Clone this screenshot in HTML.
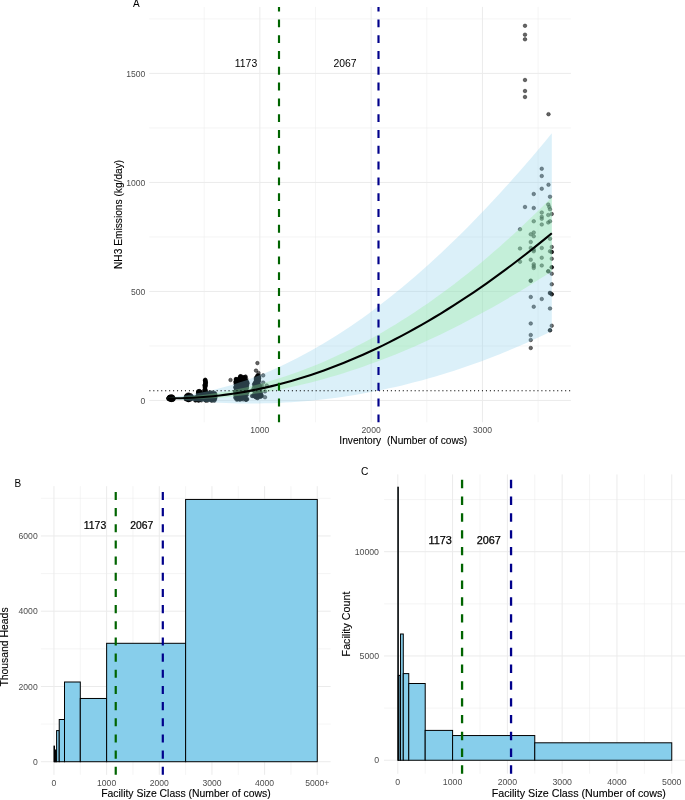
<!DOCTYPE html>
<html lang="en"><head><meta charset="utf-8"><title>Figure</title>
<style>html,body{margin:0;padding:0;background:#fff}body{width:685px;height:800px;overflow:hidden}svg{display:block}</style>
</head><body>
<svg width="685" height="800" viewBox="0 0 685 800">
<rect width="685" height="800" fill="#fff"/>
<g id="panelA">
<line x1="149.3" x2="570.9" y1="345.94" y2="345.94" stroke="#ebebeb" stroke-width="0.5"/>
<line x1="149.3" x2="570.9" y1="236.93" y2="236.93" stroke="#ebebeb" stroke-width="0.5"/>
<line x1="149.3" x2="570.9" y1="127.91" y2="127.91" stroke="#ebebeb" stroke-width="0.5"/>
<line x1="149.3" x2="570.9" y1="18.9" y2="18.9" stroke="#ebebeb" stroke-width="0.5"/>
<line y1="6.9" y2="422.3" x1="204.2" x2="204.2" stroke="#ebebeb" stroke-width="0.5"/>
<line y1="6.9" y2="422.3" x1="315.5" x2="315.5" stroke="#ebebeb" stroke-width="0.5"/>
<line y1="6.9" y2="422.3" x1="426.8" x2="426.8" stroke="#ebebeb" stroke-width="0.5"/>
<line y1="6.9" y2="422.3" x1="538.1" x2="538.1" stroke="#ebebeb" stroke-width="0.5"/>
<line x1="149.3" x2="570.9" y1="400.45" y2="400.45" stroke="#ebebeb" stroke-width="1"/>
<line x1="149.3" x2="570.9" y1="291.44" y2="291.44" stroke="#ebebeb" stroke-width="1"/>
<line x1="149.3" x2="570.9" y1="182.42" y2="182.42" stroke="#ebebeb" stroke-width="1"/>
<line x1="149.3" x2="570.9" y1="73.4" y2="73.4" stroke="#ebebeb" stroke-width="1"/>
<line y1="6.9" y2="422.3" x1="259.85" x2="259.85" stroke="#ebebeb" stroke-width="1"/>
<line y1="6.9" y2="422.3" x1="371.15" x2="371.15" stroke="#ebebeb" stroke-width="1"/>
<line y1="6.9" y2="422.3" x1="482.45" x2="482.45" stroke="#ebebeb" stroke-width="1"/>
<g fill="#000" fill-opacity="0.6" stroke="#000" stroke-opacity="0.6" stroke-width="0.7">
<circle cx="541.75" cy="168.75" r="1.8"/>
<circle cx="541.75" cy="176" r="1.8"/>
<circle cx="548.5" cy="184.75" r="1.8"/>
<circle cx="541.75" cy="188.75" r="1.8"/>
<circle cx="533.75" cy="194" r="1.8"/>
<circle cx="550" cy="196.75" r="1.8"/>
<circle cx="525" cy="207" r="1.8"/>
<circle cx="533.75" cy="208" r="1.8"/>
<circle cx="548.25" cy="204.5" r="1.8"/>
<circle cx="549.25" cy="207" r="1.8"/>
<circle cx="550" cy="209.25" r="1.8"/>
<circle cx="541.75" cy="212.5" r="1.8"/>
<circle cx="551.75" cy="214" r="1.8"/>
<circle cx="548.25" cy="215" r="1.8"/>
<circle cx="541.75" cy="216.75" r="1.8"/>
<circle cx="541.75" cy="218.75" r="1.8"/>
<circle cx="533.75" cy="221.25" r="1.8"/>
<circle cx="541.75" cy="224.5" r="1.8"/>
<circle cx="548.25" cy="222.5" r="1.8"/>
<circle cx="550" cy="221.25" r="1.8"/>
<circle cx="520" cy="229.25" r="1.8"/>
<circle cx="533.75" cy="232.5" r="1.8"/>
<circle cx="530.75" cy="234.25" r="1.8"/>
<circle cx="533.75" cy="236.25" r="1.8"/>
<circle cx="550" cy="238.75" r="1.8"/>
<circle cx="530.75" cy="242" r="1.8"/>
<circle cx="520" cy="248.5" r="1.8"/>
<circle cx="530.75" cy="248" r="1.8"/>
<circle cx="533.75" cy="249.5" r="1.8"/>
<circle cx="533.75" cy="251.25" r="1.8"/>
<circle cx="541.75" cy="248" r="1.8"/>
<circle cx="551.75" cy="247" r="1.8"/>
<circle cx="550" cy="251.25" r="1.8"/>
<circle cx="551.75" cy="252" r="1.8"/>
<circle cx="541.75" cy="257.75" r="1.8"/>
<circle cx="551.75" cy="258.75" r="1.8"/>
<circle cx="530.75" cy="259.75" r="1.8"/>
<circle cx="520" cy="261.75" r="1.8"/>
<circle cx="533.75" cy="264.25" r="1.8"/>
<circle cx="533.75" cy="266.25" r="1.8"/>
<circle cx="533.75" cy="268" r="1.8"/>
<circle cx="541.75" cy="265.5" r="1.8"/>
<circle cx="551.75" cy="267.25" r="1.8"/>
<circle cx="548.25" cy="271.25" r="1.8"/>
<circle cx="551.75" cy="273.75" r="1.8"/>
<circle cx="530.75" cy="280.75" r="1.8"/>
<circle cx="551.75" cy="284.25" r="1.8"/>
<circle cx="550" cy="293" r="1.8"/>
<circle cx="551.75" cy="294.25" r="1.8"/>
<circle cx="530.75" cy="297" r="1.8"/>
<circle cx="541.75" cy="299" r="1.8"/>
<circle cx="533.75" cy="306.75" r="1.8"/>
<circle cx="550" cy="308.5" r="1.8"/>
<circle cx="530.75" cy="323.5" r="1.8"/>
<circle cx="551.75" cy="325.75" r="1.8"/>
<circle cx="550" cy="330.25" r="1.8"/>
<circle cx="530.75" cy="335" r="1.8"/>
<circle cx="530.75" cy="340" r="1.8"/>
<circle cx="530.75" cy="348" r="1.8"/>
<circle cx="548.25" cy="271.25" r="1.8"/>
<circle cx="550" cy="293" r="1.8"/>
<circle cx="551.75" cy="294.25" r="1.8"/>
<circle cx="550" cy="330.25" r="1.8"/>
<circle cx="530.75" cy="280.75" r="1.8"/>
<circle cx="551.75" cy="267.25" r="1.8"/>
<circle cx="551.75" cy="252" r="1.8"/>
<circle cx="525" cy="25.8" r="1.8"/>
<circle cx="525" cy="34.7" r="1.8"/>
<circle cx="525" cy="39.3" r="1.8"/>
<circle cx="525" cy="80" r="1.8"/>
<circle cx="525" cy="91" r="1.8"/>
<circle cx="525" cy="97" r="1.8"/>
<circle cx="548.5" cy="114.2" r="1.8"/>
<circle cx="257.4" cy="363.1" r="1.8"/>
<circle cx="256" cy="370.6" r="1.8"/>
<circle cx="258.5" cy="373" r="1.8"/>
<circle cx="263.2" cy="375.4" r="1.8"/>
<circle cx="263.2" cy="382.6" r="1.8"/>
<circle cx="266.7" cy="385.5" r="1.8"/>
<circle cx="265" cy="391.4" r="1.8"/>
<circle cx="265" cy="397.2" r="1.8"/>
<circle cx="260.9" cy="394.9" r="1.8"/>
<circle cx="230.5" cy="380" r="1.8"/>
<circle cx="170.15" cy="396.97" r="1.8"/>
<circle cx="171.92" cy="396.68" r="1.8"/>
<circle cx="171.29" cy="397.79" r="1.8"/>
<circle cx="168.71" cy="398.33" r="1.8"/>
<circle cx="168.6" cy="398.05" r="1.8"/>
<circle cx="170.69" cy="399.54" r="1.8"/>
<circle cx="169.07" cy="397.25" r="1.8"/>
<circle cx="171.79" cy="400" r="1.8"/>
<circle cx="171.52" cy="397.91" r="1.8"/>
<circle cx="173.04" cy="397.5" r="1.8"/>
<circle cx="170.07" cy="399.5" r="1.8"/>
<circle cx="169.38" cy="398.61" r="1.8"/>
<circle cx="171.85" cy="397.82" r="1.8"/>
<circle cx="171.36" cy="396.64" r="1.8"/>
<circle cx="172.07" cy="398.02" r="1.8"/>
<circle cx="170.1" cy="398.63" r="1.8"/>
<circle cx="170.85" cy="397.54" r="1.8"/>
<circle cx="172.69" cy="399.06" r="1.8"/>
<circle cx="169.72" cy="398.58" r="1.8"/>
<circle cx="171.24" cy="399.73" r="1.8"/>
<circle cx="172.34" cy="397.49" r="1.8"/>
<circle cx="170.66" cy="399.28" r="1.8"/>
<circle cx="169.22" cy="398.26" r="1.8"/>
<circle cx="168.61" cy="398.94" r="1.8"/>
<circle cx="172.53" cy="398.58" r="1.8"/>
<circle cx="173.13" cy="397.59" r="1.8"/>
<circle cx="172.15" cy="398.66" r="1.8"/>
<circle cx="171.53" cy="398.13" r="1.8"/>
<circle cx="170.96" cy="398.92" r="1.8"/>
<circle cx="168.73" cy="399.07" r="1.8"/>
<circle cx="172.84" cy="397.48" r="1.8"/>
<circle cx="170.48" cy="398.94" r="1.8"/>
<circle cx="168.52" cy="398.15" r="1.8"/>
<circle cx="169.1" cy="397.34" r="1.8"/>
<circle cx="170.51" cy="399.71" r="1.8"/>
<circle cx="168.84" cy="398.11" r="1.8"/>
<circle cx="171.37" cy="399.76" r="1.8"/>
<circle cx="172.82" cy="399.68" r="1.8"/>
<circle cx="169.9" cy="397.98" r="1.8"/>
<circle cx="170.34" cy="399.76" r="1.8"/>
<circle cx="169.35" cy="397.28" r="1.8"/>
<circle cx="169.66" cy="398.24" r="1.8"/>
<circle cx="171.58" cy="397.4" r="1.8"/>
<circle cx="170.39" cy="398.55" r="1.8"/>
<circle cx="173.55" cy="399.02" r="1.8"/>
<circle cx="171.18" cy="398.75" r="1.8"/>
<circle cx="172.05" cy="396.61" r="1.8"/>
<circle cx="173.26" cy="399.36" r="1.8"/>
<circle cx="173.12" cy="399.43" r="1.8"/>
<circle cx="170.52" cy="397.92" r="1.8"/>
<circle cx="168.96" cy="398.81" r="1.8"/>
<circle cx="169.53" cy="397.02" r="1.8"/>
<circle cx="170.24" cy="396.6" r="1.8"/>
<circle cx="168.95" cy="397.78" r="1.8"/>
<circle cx="171.72" cy="396.96" r="1.8"/>
<circle cx="169.76" cy="397.72" r="1.8"/>
<circle cx="170.37" cy="396.87" r="1.8"/>
<circle cx="170.92" cy="398.24" r="1.8"/>
<circle cx="170.25" cy="397.41" r="1.8"/>
<circle cx="172.88" cy="397.01" r="1.8"/>
<circle cx="188.7" cy="395.42" r="1.8"/>
<circle cx="188.81" cy="394.75" r="1.8"/>
<circle cx="188.7" cy="400.08" r="1.8"/>
<circle cx="191.12" cy="398.5" r="1.8"/>
<circle cx="186.78" cy="396.65" r="1.8"/>
<circle cx="186.1" cy="398.92" r="1.8"/>
<circle cx="188.73" cy="398.96" r="1.8"/>
<circle cx="187.27" cy="395.85" r="1.8"/>
<circle cx="191.04" cy="399.11" r="1.8"/>
<circle cx="190.79" cy="398.74" r="1.8"/>
<circle cx="186.53" cy="397.5" r="1.8"/>
<circle cx="187.46" cy="394.76" r="1.8"/>
<circle cx="186.77" cy="398.48" r="1.8"/>
<circle cx="191.79" cy="397.1" r="1.8"/>
<circle cx="191.78" cy="396.64" r="1.8"/>
<circle cx="186.49" cy="395.87" r="1.8"/>
<circle cx="186.32" cy="395.74" r="1.8"/>
<circle cx="189.39" cy="399.64" r="1.8"/>
<circle cx="190.95" cy="397.29" r="1.8"/>
<circle cx="189.6" cy="399.08" r="1.8"/>
<circle cx="185.51" cy="398.3" r="1.8"/>
<circle cx="191.45" cy="398.98" r="1.8"/>
<circle cx="190.3" cy="397.28" r="1.8"/>
<circle cx="186.19" cy="399.02" r="1.8"/>
<circle cx="187.29" cy="399.08" r="1.8"/>
<circle cx="191.9" cy="396.82" r="1.8"/>
<circle cx="187.79" cy="399.9" r="1.8"/>
<circle cx="190.12" cy="395.55" r="1.8"/>
<circle cx="185.95" cy="399.23" r="1.8"/>
<circle cx="187.42" cy="397.67" r="1.8"/>
<circle cx="191.89" cy="398.24" r="1.8"/>
<circle cx="188.69" cy="399.83" r="1.8"/>
<circle cx="188.02" cy="399.48" r="1.8"/>
<circle cx="190.85" cy="395.78" r="1.8"/>
<circle cx="186.71" cy="396.24" r="1.8"/>
<circle cx="186.63" cy="397.88" r="1.8"/>
<circle cx="186.77" cy="396.95" r="1.8"/>
<circle cx="187.45" cy="397.17" r="1.8"/>
<circle cx="189.1" cy="399.66" r="1.8"/>
<circle cx="187.93" cy="399.74" r="1.8"/>
<circle cx="188.51" cy="397.58" r="1.8"/>
<circle cx="188.67" cy="394.7" r="1.8"/>
<circle cx="188.07" cy="395.63" r="1.8"/>
<circle cx="186.14" cy="397.25" r="1.8"/>
<circle cx="190.12" cy="397.72" r="1.8"/>
<circle cx="187.25" cy="397.5" r="1.8"/>
<circle cx="188.9" cy="398.99" r="1.8"/>
<circle cx="185.66" cy="397.74" r="1.8"/>
<circle cx="186.69" cy="396.15" r="1.8"/>
<circle cx="190.46" cy="397.44" r="1.8"/>
<circle cx="188.94" cy="398.86" r="1.8"/>
<circle cx="191.47" cy="397.08" r="1.8"/>
<circle cx="189.31" cy="397.43" r="1.8"/>
<circle cx="188.59" cy="398.48" r="1.8"/>
<circle cx="188.16" cy="397.59" r="1.8"/>
<circle cx="188.34" cy="399.87" r="1.8"/>
<circle cx="189.93" cy="399.51" r="1.8"/>
<circle cx="188.93" cy="399.88" r="1.8"/>
<circle cx="190.95" cy="395.37" r="1.8"/>
<circle cx="185.78" cy="397.08" r="1.8"/>
<circle cx="195.29" cy="397.46" r="1.8"/>
<circle cx="195.29" cy="399.18" r="1.8"/>
<circle cx="198.14" cy="400.09" r="1.8"/>
<circle cx="195.62" cy="399.36" r="1.8"/>
<circle cx="197.64" cy="397.07" r="1.8"/>
<circle cx="198.53" cy="400.37" r="1.8"/>
<circle cx="195.88" cy="400.31" r="1.8"/>
<circle cx="196.59" cy="398.45" r="1.8"/>
<circle cx="198.96" cy="399.83" r="1.8"/>
<circle cx="195.65" cy="398.23" r="1.8"/>
<circle cx="197.06" cy="397.86" r="1.8"/>
<circle cx="195.78" cy="397.77" r="1.8"/>
<circle cx="197.89" cy="396.58" r="1.8"/>
<circle cx="197.22" cy="398.26" r="1.8"/>
<circle cx="195.07" cy="397.83" r="1.8"/>
<circle cx="197.5" cy="398.55" r="1.8"/>
<circle cx="195.26" cy="400.44" r="1.8"/>
<circle cx="198.15" cy="400.39" r="1.8"/>
<circle cx="195.42" cy="397.56" r="1.8"/>
<circle cx="195.16" cy="399.62" r="1.8"/>
<circle cx="199.35" cy="392.23" r="1.8"/>
<circle cx="200.11" cy="399.66" r="1.8"/>
<circle cx="202.09" cy="393.46" r="1.8"/>
<circle cx="198.75" cy="399.73" r="1.8"/>
<circle cx="200.85" cy="397.65" r="1.8"/>
<circle cx="198.45" cy="391.55" r="1.8"/>
<circle cx="201.44" cy="395.04" r="1.8"/>
<circle cx="198.36" cy="399.91" r="1.8"/>
<circle cx="201.17" cy="398.62" r="1.8"/>
<circle cx="198.42" cy="399.13" r="1.8"/>
<circle cx="198.33" cy="399.2" r="1.8"/>
<circle cx="200.27" cy="394.22" r="1.8"/>
<circle cx="200.77" cy="399.8" r="1.8"/>
<circle cx="199.34" cy="392.23" r="1.8"/>
<circle cx="200.63" cy="393.27" r="1.8"/>
<circle cx="198.55" cy="392.53" r="1.8"/>
<circle cx="198.25" cy="392.92" r="1.8"/>
<circle cx="199.56" cy="393.9" r="1.8"/>
<circle cx="201.8" cy="393.75" r="1.8"/>
<circle cx="200.5" cy="392.69" r="1.8"/>
<circle cx="199.74" cy="391.17" r="1.8"/>
<circle cx="199.25" cy="391.15" r="1.8"/>
<circle cx="201.67" cy="396.23" r="1.8"/>
<circle cx="198.95" cy="395.51" r="1.8"/>
<circle cx="202.67" cy="392.01" r="1.8"/>
<circle cx="202.09" cy="395.11" r="1.8"/>
<circle cx="200.48" cy="398.93" r="1.8"/>
<circle cx="199.97" cy="395.81" r="1.8"/>
<circle cx="201.44" cy="400.33" r="1.8"/>
<circle cx="199.71" cy="398.91" r="1.8"/>
<circle cx="201.53" cy="397.04" r="1.8"/>
<circle cx="200.02" cy="394.3" r="1.8"/>
<circle cx="198.27" cy="392.23" r="1.8"/>
<circle cx="198.35" cy="398.04" r="1.8"/>
<circle cx="199.28" cy="392.55" r="1.8"/>
<circle cx="198.42" cy="398.99" r="1.8"/>
<circle cx="202.35" cy="397.37" r="1.8"/>
<circle cx="199.41" cy="393.3" r="1.8"/>
<circle cx="199.47" cy="395.36" r="1.8"/>
<circle cx="198.79" cy="395.24" r="1.8"/>
<circle cx="199.32" cy="400.14" r="1.8"/>
<circle cx="202.86" cy="396.2" r="1.8"/>
<circle cx="199.22" cy="400.17" r="1.8"/>
<circle cx="199.55" cy="394.39" r="1.8"/>
<circle cx="198.01" cy="394.63" r="1.8"/>
<circle cx="200.37" cy="395.78" r="1.8"/>
<circle cx="199" cy="395.79" r="1.8"/>
<circle cx="198.02" cy="393.51" r="1.8"/>
<circle cx="198.45" cy="394.8" r="1.8"/>
<circle cx="198.21" cy="391.21" r="1.8"/>
<circle cx="205.03" cy="384.54" r="1.8"/>
<circle cx="205.34" cy="390.71" r="1.8"/>
<circle cx="205.53" cy="393.38" r="1.8"/>
<circle cx="205.49" cy="397.99" r="1.8"/>
<circle cx="205.13" cy="386.48" r="1.8"/>
<circle cx="205.78" cy="382.81" r="1.8"/>
<circle cx="205.5" cy="393.08" r="1.8"/>
<circle cx="204.75" cy="397.07" r="1.8"/>
<circle cx="205.68" cy="392.75" r="1.8"/>
<circle cx="205.51" cy="396.59" r="1.8"/>
<circle cx="204.85" cy="390.59" r="1.8"/>
<circle cx="205.25" cy="397.07" r="1.8"/>
<circle cx="205.59" cy="396.89" r="1.8"/>
<circle cx="205.34" cy="398.27" r="1.8"/>
<circle cx="205.45" cy="394.12" r="1.8"/>
<circle cx="204.95" cy="380.35" r="1.8"/>
<circle cx="204.85" cy="387.2" r="1.8"/>
<circle cx="204.82" cy="397.09" r="1.8"/>
<circle cx="205.31" cy="392.76" r="1.8"/>
<circle cx="205.39" cy="393.86" r="1.8"/>
<circle cx="205.24" cy="379.77" r="1.8"/>
<circle cx="205.58" cy="395.26" r="1.8"/>
<circle cx="205.25" cy="390.83" r="1.8"/>
<circle cx="205.43" cy="381.07" r="1.8"/>
<circle cx="205.51" cy="384.95" r="1.8"/>
<circle cx="204.78" cy="385.22" r="1.8"/>
<circle cx="205.5" cy="383.97" r="1.8"/>
<circle cx="205.51" cy="400" r="1.8"/>
<circle cx="205.24" cy="387.66" r="1.8"/>
<circle cx="205.23" cy="393.92" r="1.8"/>
<circle cx="205.54" cy="392.53" r="1.8"/>
<circle cx="205.41" cy="381.31" r="1.8"/>
<circle cx="204.86" cy="384.98" r="1.8"/>
<circle cx="205.52" cy="386.03" r="1.8"/>
<circle cx="205.32" cy="379.96" r="1.8"/>
<circle cx="204.77" cy="385.29" r="1.8"/>
<circle cx="205.44" cy="394.1" r="1.8"/>
<circle cx="205.44" cy="385.75" r="1.8"/>
<circle cx="205.27" cy="389.36" r="1.8"/>
<circle cx="205.21" cy="382.16" r="1.8"/>
<circle cx="205.68" cy="383.84" r="1.8"/>
<circle cx="205.78" cy="399.17" r="1.8"/>
<circle cx="204.72" cy="389.25" r="1.8"/>
<circle cx="205.6" cy="399.84" r="1.8"/>
<circle cx="205.19" cy="385.29" r="1.8"/>
<circle cx="204.93" cy="399.37" r="1.8"/>
<circle cx="204.93" cy="391.79" r="1.8"/>
<circle cx="204.86" cy="390.6" r="1.8"/>
<circle cx="205.75" cy="382.46" r="1.8"/>
<circle cx="205.6" cy="390.28" r="1.8"/>
<circle cx="205.68" cy="394.33" r="1.8"/>
<circle cx="204.95" cy="398.37" r="1.8"/>
<circle cx="205.23" cy="380.22" r="1.8"/>
<circle cx="204.7" cy="389.93" r="1.8"/>
<circle cx="205.2" cy="385.98" r="1.8"/>
<circle cx="204.85" cy="386.85" r="1.8"/>
<circle cx="205.05" cy="397.18" r="1.8"/>
<circle cx="204.7" cy="395.32" r="1.8"/>
<circle cx="205.62" cy="382.2" r="1.8"/>
<circle cx="205.72" cy="394.53" r="1.8"/>
<circle cx="214.27" cy="394.88" r="1.8"/>
<circle cx="207.65" cy="395.72" r="1.8"/>
<circle cx="215.48" cy="397.33" r="1.8"/>
<circle cx="207.51" cy="396.01" r="1.8"/>
<circle cx="206.44" cy="392.9" r="1.8"/>
<circle cx="204.27" cy="399.34" r="1.8"/>
<circle cx="206.57" cy="400.17" r="1.8"/>
<circle cx="206.12" cy="394.68" r="1.8"/>
<circle cx="209.39" cy="394.06" r="1.8"/>
<circle cx="207.67" cy="400.34" r="1.8"/>
<circle cx="214.05" cy="399.16" r="1.8"/>
<circle cx="210.89" cy="399.99" r="1.8"/>
<circle cx="214.76" cy="397" r="1.8"/>
<circle cx="211.99" cy="392.91" r="1.8"/>
<circle cx="212.15" cy="396.2" r="1.8"/>
<circle cx="212.41" cy="397.78" r="1.8"/>
<circle cx="206.58" cy="392.9" r="1.8"/>
<circle cx="214.58" cy="393.54" r="1.8"/>
<circle cx="208.9" cy="395.32" r="1.8"/>
<circle cx="206.72" cy="398.56" r="1.8"/>
<circle cx="215.2" cy="394.63" r="1.8"/>
<circle cx="211.2" cy="394.97" r="1.8"/>
<circle cx="209.97" cy="395.73" r="1.8"/>
<circle cx="205.09" cy="393.83" r="1.8"/>
<circle cx="205.6" cy="399.93" r="1.8"/>
<circle cx="209.21" cy="394.3" r="1.8"/>
<circle cx="214.33" cy="400.67" r="1.8"/>
<circle cx="208.62" cy="393.64" r="1.8"/>
<circle cx="205.41" cy="393.24" r="1.8"/>
<circle cx="207.27" cy="393.25" r="1.8"/>
<circle cx="205.99" cy="394.62" r="1.8"/>
<circle cx="210.12" cy="399.78" r="1.8"/>
<circle cx="212.37" cy="395.88" r="1.8"/>
<circle cx="208.17" cy="396.8" r="1.8"/>
<circle cx="207.71" cy="395.27" r="1.8"/>
<circle cx="203.78" cy="394.78" r="1.8"/>
<circle cx="215.1" cy="393.53" r="1.8"/>
<circle cx="209.29" cy="397.66" r="1.8"/>
<circle cx="213.79" cy="394.27" r="1.8"/>
<circle cx="206.39" cy="394.54" r="1.8"/>
<circle cx="208" cy="396.16" r="1.8"/>
<circle cx="214.92" cy="399.46" r="1.8"/>
<circle cx="213.91" cy="392.68" r="1.8"/>
<circle cx="203.4" cy="398.32" r="1.8"/>
<circle cx="214.2" cy="396.38" r="1.8"/>
<circle cx="210.34" cy="392.5" r="1.8"/>
<circle cx="207.89" cy="400.1" r="1.8"/>
<circle cx="213.32" cy="399.51" r="1.8"/>
<circle cx="215.15" cy="394.54" r="1.8"/>
<circle cx="204.36" cy="393.77" r="1.8"/>
<circle cx="209.53" cy="398.09" r="1.8"/>
<circle cx="214.77" cy="398.42" r="1.8"/>
<circle cx="211.09" cy="398.77" r="1.8"/>
<circle cx="208.72" cy="397.02" r="1.8"/>
<circle cx="203.49" cy="398.91" r="1.8"/>
<circle cx="205.91" cy="400.04" r="1.8"/>
<circle cx="211.07" cy="394.99" r="1.8"/>
<circle cx="204.6" cy="394.56" r="1.8"/>
<circle cx="210.95" cy="398.23" r="1.8"/>
<circle cx="204.4" cy="393.08" r="1.8"/>
<circle cx="209.56" cy="397.28" r="1.8"/>
<circle cx="207.85" cy="394.33" r="1.8"/>
<circle cx="210.51" cy="392.59" r="1.8"/>
<circle cx="206.77" cy="396.28" r="1.8"/>
<circle cx="214.99" cy="397.79" r="1.8"/>
<circle cx="214.05" cy="396.4" r="1.8"/>
<circle cx="205.93" cy="394.53" r="1.8"/>
<circle cx="215.01" cy="398.28" r="1.8"/>
<circle cx="206.84" cy="392.68" r="1.8"/>
<circle cx="209.23" cy="398.03" r="1.8"/>
<circle cx="208.25" cy="394.61" r="1.8"/>
<circle cx="211.34" cy="400.09" r="1.8"/>
<circle cx="205.83" cy="392.78" r="1.8"/>
<circle cx="207.23" cy="395.95" r="1.8"/>
<circle cx="211.53" cy="394.12" r="1.8"/>
<circle cx="212.96" cy="398.56" r="1.8"/>
<circle cx="209.31" cy="394.18" r="1.8"/>
<circle cx="215.12" cy="395.06" r="1.8"/>
<circle cx="213.25" cy="394.39" r="1.8"/>
<circle cx="205.77" cy="398.74" r="1.8"/>
<circle cx="206.69" cy="400.31" r="1.8"/>
<circle cx="209.2" cy="394.04" r="1.8"/>
<circle cx="205.79" cy="395.92" r="1.8"/>
<circle cx="211.32" cy="400.28" r="1.8"/>
<circle cx="204.83" cy="395.73" r="1.8"/>
<circle cx="205.66" cy="400.49" r="1.8"/>
<circle cx="204.77" cy="392.93" r="1.8"/>
<circle cx="203.75" cy="395.73" r="1.8"/>
<circle cx="214.23" cy="399.75" r="1.8"/>
<circle cx="212.16" cy="400.68" r="1.8"/>
<circle cx="246.85" cy="387.19" r="1.8"/>
<circle cx="237.6" cy="398.59" r="1.8"/>
<circle cx="244.55" cy="381.6" r="1.8"/>
<circle cx="243.54" cy="388.12" r="1.8"/>
<circle cx="239.94" cy="387.24" r="1.8"/>
<circle cx="237.4" cy="381.05" r="1.8"/>
<circle cx="238.77" cy="387.61" r="1.8"/>
<circle cx="247.15" cy="383.33" r="1.8"/>
<circle cx="247.26" cy="384.9" r="1.8"/>
<circle cx="239.72" cy="396.45" r="1.8"/>
<circle cx="245.49" cy="389.13" r="1.8"/>
<circle cx="235.91" cy="389.9" r="1.8"/>
<circle cx="239.92" cy="398.29" r="1.8"/>
<circle cx="237.69" cy="387.85" r="1.8"/>
<circle cx="246.42" cy="381.57" r="1.8"/>
<circle cx="240.39" cy="396.26" r="1.8"/>
<circle cx="244.81" cy="381.76" r="1.8"/>
<circle cx="235.73" cy="382.18" r="1.8"/>
<circle cx="246.71" cy="385.83" r="1.8"/>
<circle cx="244.57" cy="397.89" r="1.8"/>
<circle cx="239.5" cy="386.12" r="1.8"/>
<circle cx="247.18" cy="392.6" r="1.8"/>
<circle cx="238.55" cy="394.47" r="1.8"/>
<circle cx="239.22" cy="386.18" r="1.8"/>
<circle cx="235.35" cy="395.21" r="1.8"/>
<circle cx="246.66" cy="392.92" r="1.8"/>
<circle cx="247" cy="381.46" r="1.8"/>
<circle cx="238.2" cy="389.93" r="1.8"/>
<circle cx="247.16" cy="398.93" r="1.8"/>
<circle cx="240.09" cy="385.72" r="1.8"/>
<circle cx="240.63" cy="390.28" r="1.8"/>
<circle cx="246.81" cy="384.44" r="1.8"/>
<circle cx="245.25" cy="394.88" r="1.8"/>
<circle cx="245.5" cy="395.53" r="1.8"/>
<circle cx="242.83" cy="387.16" r="1.8"/>
<circle cx="239.26" cy="387.8" r="1.8"/>
<circle cx="245" cy="382.49" r="1.8"/>
<circle cx="237.75" cy="395.15" r="1.8"/>
<circle cx="238.37" cy="382.22" r="1.8"/>
<circle cx="235.72" cy="391.39" r="1.8"/>
<circle cx="239.34" cy="399.43" r="1.8"/>
<circle cx="246.26" cy="399.57" r="1.8"/>
<circle cx="238.58" cy="382.58" r="1.8"/>
<circle cx="236.5" cy="390.37" r="1.8"/>
<circle cx="244.1" cy="389.4" r="1.8"/>
<circle cx="238.2" cy="388.84" r="1.8"/>
<circle cx="242.99" cy="393.67" r="1.8"/>
<circle cx="244.57" cy="396.92" r="1.8"/>
<circle cx="243.54" cy="383.28" r="1.8"/>
<circle cx="245.73" cy="386.52" r="1.8"/>
<circle cx="242.33" cy="388.01" r="1.8"/>
<circle cx="244.45" cy="384.74" r="1.8"/>
<circle cx="238.37" cy="385.61" r="1.8"/>
<circle cx="237.2" cy="397.62" r="1.8"/>
<circle cx="242.47" cy="387.14" r="1.8"/>
<circle cx="240.21" cy="399.66" r="1.8"/>
<circle cx="241.59" cy="385.35" r="1.8"/>
<circle cx="245.32" cy="393.28" r="1.8"/>
<circle cx="247.59" cy="382.92" r="1.8"/>
<circle cx="241.19" cy="396.4" r="1.8"/>
<circle cx="245.72" cy="398.19" r="1.8"/>
<circle cx="235.8" cy="386.52" r="1.8"/>
<circle cx="236.78" cy="384.56" r="1.8"/>
<circle cx="247.36" cy="391.96" r="1.8"/>
<circle cx="246.83" cy="388" r="1.8"/>
<circle cx="246.04" cy="389.44" r="1.8"/>
<circle cx="238.52" cy="395.62" r="1.8"/>
<circle cx="247.03" cy="382.99" r="1.8"/>
<circle cx="242.69" cy="392.66" r="1.8"/>
<circle cx="238" cy="387.93" r="1.8"/>
<circle cx="237.05" cy="384.83" r="1.8"/>
<circle cx="238.46" cy="392.27" r="1.8"/>
<circle cx="243.38" cy="384.82" r="1.8"/>
<circle cx="235.44" cy="387.15" r="1.8"/>
<circle cx="243.71" cy="384.48" r="1.8"/>
<circle cx="239.17" cy="384.82" r="1.8"/>
<circle cx="245.16" cy="391.3" r="1.8"/>
<circle cx="236.08" cy="382.91" r="1.8"/>
<circle cx="240.2" cy="391.34" r="1.8"/>
<circle cx="243.23" cy="382.71" r="1.8"/>
<circle cx="237.33" cy="394.07" r="1.8"/>
<circle cx="240.38" cy="386.33" r="1.8"/>
<circle cx="239.11" cy="398.92" r="1.8"/>
<circle cx="239.17" cy="391.65" r="1.8"/>
<circle cx="239.73" cy="388.83" r="1.8"/>
<circle cx="246.02" cy="399.74" r="1.8"/>
<circle cx="239.81" cy="384.71" r="1.8"/>
<circle cx="244.33" cy="384.83" r="1.8"/>
<circle cx="235.37" cy="397.95" r="1.8"/>
<circle cx="240.55" cy="396.42" r="1.8"/>
<circle cx="240.34" cy="397.6" r="1.8"/>
<circle cx="241.02" cy="384.06" r="1.8"/>
<circle cx="235.48" cy="391.37" r="1.8"/>
<circle cx="243.24" cy="398.1" r="1.8"/>
<circle cx="236.4" cy="392.7" r="1.8"/>
<circle cx="239.9" cy="390.48" r="1.8"/>
<circle cx="237.11" cy="386.33" r="1.8"/>
<circle cx="241.76" cy="398.4" r="1.8"/>
<circle cx="236.65" cy="390.22" r="1.8"/>
<circle cx="245.28" cy="399.18" r="1.8"/>
<circle cx="237.75" cy="383.38" r="1.8"/>
<circle cx="246.99" cy="399.34" r="1.8"/>
<circle cx="241.29" cy="382" r="1.8"/>
<circle cx="246.78" cy="388.29" r="1.8"/>
<circle cx="246.51" cy="392.66" r="1.8"/>
<circle cx="245.52" cy="384.01" r="1.8"/>
<circle cx="245.04" cy="385.18" r="1.8"/>
<circle cx="240.32" cy="396.91" r="1.8"/>
<circle cx="245.58" cy="384.44" r="1.8"/>
<circle cx="238" cy="388.52" r="1.8"/>
<circle cx="241.72" cy="388.21" r="1.8"/>
<circle cx="236.83" cy="385.64" r="1.8"/>
<circle cx="244.29" cy="397.87" r="1.8"/>
<circle cx="235.81" cy="391.57" r="1.8"/>
<circle cx="244.69" cy="381.72" r="1.8"/>
<circle cx="245.69" cy="383.21" r="1.8"/>
<circle cx="242.73" cy="391.34" r="1.8"/>
<circle cx="243.08" cy="386.76" r="1.8"/>
<circle cx="240.51" cy="391.95" r="1.8"/>
<circle cx="240.58" cy="393.39" r="1.8"/>
<circle cx="240.84" cy="389.24" r="1.8"/>
<circle cx="235.59" cy="392.64" r="1.8"/>
<circle cx="241.37" cy="385.42" r="1.8"/>
<circle cx="244.77" cy="395.66" r="1.8"/>
<circle cx="240.98" cy="384.38" r="1.8"/>
<circle cx="241.17" cy="383.01" r="1.8"/>
<circle cx="236.89" cy="389.1" r="1.8"/>
<circle cx="236.44" cy="389.31" r="1.8"/>
<circle cx="241.63" cy="381.77" r="1.8"/>
<circle cx="243.19" cy="382.55" r="1.8"/>
<circle cx="244.4" cy="395.62" r="1.8"/>
<circle cx="241.64" cy="382.02" r="1.8"/>
<circle cx="241.55" cy="388.1" r="1.8"/>
<circle cx="247.09" cy="383.56" r="1.8"/>
<circle cx="245.93" cy="399.73" r="1.8"/>
<circle cx="244.38" cy="396.32" r="1.8"/>
<circle cx="237.7" cy="399.46" r="1.8"/>
<circle cx="241.4" cy="398.98" r="1.8"/>
<circle cx="246.66" cy="384.1" r="1.8"/>
<circle cx="245.08" cy="398.49" r="1.8"/>
<circle cx="236.11" cy="387.6" r="1.8"/>
<circle cx="244.68" cy="383.98" r="1.8"/>
<circle cx="246.42" cy="386.17" r="1.8"/>
<circle cx="245.41" cy="383.7" r="1.8"/>
<circle cx="241.53" cy="398.29" r="1.8"/>
<circle cx="237.88" cy="385.94" r="1.8"/>
<circle cx="241.57" cy="387" r="1.8"/>
<circle cx="235.76" cy="384.42" r="1.8"/>
<circle cx="237.3" cy="398.6" r="1.8"/>
<circle cx="243.73" cy="397.83" r="1.8"/>
<circle cx="237.39" cy="395.76" r="1.8"/>
<circle cx="236.73" cy="390.98" r="1.8"/>
<circle cx="243.19" cy="387.76" r="1.8"/>
<circle cx="246.12" cy="391.44" r="1.8"/>
<circle cx="242.49" cy="397.59" r="1.8"/>
<circle cx="236.6" cy="399.67" r="1.8"/>
<circle cx="243.11" cy="388.41" r="1.8"/>
<circle cx="245.19" cy="385.98" r="1.8"/>
<circle cx="247.58" cy="391.85" r="1.8"/>
<circle cx="239.77" cy="395.38" r="1.8"/>
<circle cx="240.78" cy="384.32" r="1.8"/>
<circle cx="244.52" cy="381.91" r="1.8"/>
<circle cx="245.47" cy="385.77" r="1.8"/>
<circle cx="243.23" cy="399.5" r="1.8"/>
<circle cx="242.56" cy="393.48" r="1.8"/>
<circle cx="239.18" cy="381.03" r="1.8"/>
<circle cx="235.72" cy="383.81" r="1.8"/>
<circle cx="242.94" cy="389.13" r="1.8"/>
<circle cx="241.66" cy="397.84" r="1.8"/>
<circle cx="236.94" cy="385.27" r="1.8"/>
<circle cx="243.4" cy="381.42" r="1.8"/>
<circle cx="235.33" cy="387.67" r="1.8"/>
<circle cx="236.62" cy="387.71" r="1.8"/>
<circle cx="238.08" cy="391.97" r="1.8"/>
<circle cx="242.6" cy="384.84" r="1.8"/>
<circle cx="243.04" cy="389.93" r="1.8"/>
<circle cx="236.97" cy="398.61" r="1.8"/>
<circle cx="238.32" cy="383.81" r="1.8"/>
<circle cx="236.49" cy="393" r="1.8"/>
<circle cx="246.1" cy="395.7" r="1.8"/>
<circle cx="240.28" cy="385.97" r="1.8"/>
<circle cx="235.44" cy="393.13" r="1.8"/>
<circle cx="242.27" cy="387.59" r="1.8"/>
<circle cx="243.31" cy="389.34" r="1.8"/>
<circle cx="246.92" cy="394.79" r="1.8"/>
<circle cx="238.38" cy="397.99" r="1.8"/>
<circle cx="235.85" cy="390.99" r="1.8"/>
<circle cx="240.33" cy="385.47" r="1.8"/>
<circle cx="236.02" cy="395.64" r="1.8"/>
<circle cx="235.45" cy="391.36" r="1.8"/>
<circle cx="246.97" cy="383.67" r="1.8"/>
<circle cx="237.77" cy="392.43" r="1.8"/>
<circle cx="241.59" cy="393.06" r="1.8"/>
<circle cx="245.39" cy="384.28" r="1.8"/>
<circle cx="239.14" cy="386.65" r="1.8"/>
<circle cx="235.9" cy="397.72" r="1.8"/>
<circle cx="245.01" cy="394.45" r="1.8"/>
<circle cx="235.38" cy="396.88" r="1.8"/>
<circle cx="244.54" cy="389.75" r="1.8"/>
<circle cx="244.5" cy="389.51" r="1.8"/>
<circle cx="236.14" cy="379.32" r="1.8"/>
<circle cx="236.16" cy="379.12" r="1.8"/>
<circle cx="236.54" cy="381.25" r="1.8"/>
<circle cx="237.87" cy="381.54" r="1.8"/>
<circle cx="237.93" cy="379.8" r="1.8"/>
<circle cx="237.35" cy="380.31" r="1.8"/>
<circle cx="238.22" cy="380.57" r="1.8"/>
<circle cx="236.28" cy="380.93" r="1.8"/>
<circle cx="238.87" cy="379.65" r="1.8"/>
<circle cx="238.56" cy="379.05" r="1.8"/>
<circle cx="236.26" cy="379.71" r="1.8"/>
<circle cx="238.05" cy="381.83" r="1.8"/>
<circle cx="238.06" cy="379.98" r="1.8"/>
<circle cx="238.56" cy="379.99" r="1.8"/>
<circle cx="236.18" cy="381.72" r="1.8"/>
<circle cx="237.63" cy="381.08" r="1.8"/>
<circle cx="237.76" cy="381.94" r="1.8"/>
<circle cx="237.04" cy="381.52" r="1.8"/>
<circle cx="237.88" cy="381.57" r="1.8"/>
<circle cx="236.92" cy="381.17" r="1.8"/>
<circle cx="237.41" cy="379.92" r="1.8"/>
<circle cx="236.08" cy="380.87" r="1.8"/>
<circle cx="235.59" cy="381.73" r="1.8"/>
<circle cx="235.84" cy="379.08" r="1.8"/>
<circle cx="235.69" cy="381.79" r="1.8"/>
<circle cx="242.24" cy="376.85" r="1.8"/>
<circle cx="240.19" cy="376.25" r="1.8"/>
<circle cx="244.5" cy="379.8" r="1.8"/>
<circle cx="244.53" cy="380.42" r="1.8"/>
<circle cx="240.43" cy="379.54" r="1.8"/>
<circle cx="242.36" cy="380.91" r="1.8"/>
<circle cx="245.33" cy="381.35" r="1.8"/>
<circle cx="240.43" cy="381.21" r="1.8"/>
<circle cx="245.94" cy="381.67" r="1.8"/>
<circle cx="240.7" cy="377.23" r="1.8"/>
<circle cx="240.73" cy="376.21" r="1.8"/>
<circle cx="245.51" cy="380.87" r="1.8"/>
<circle cx="244.12" cy="380.95" r="1.8"/>
<circle cx="244.1" cy="377.72" r="1.8"/>
<circle cx="240.65" cy="376.59" r="1.8"/>
<circle cx="244.92" cy="377.23" r="1.8"/>
<circle cx="242.07" cy="378.54" r="1.8"/>
<circle cx="240.14" cy="377.54" r="1.8"/>
<circle cx="241.84" cy="380.29" r="1.8"/>
<circle cx="242.39" cy="377.92" r="1.8"/>
<circle cx="246.27" cy="379.02" r="1.8"/>
<circle cx="245.53" cy="379.71" r="1.8"/>
<circle cx="240.2" cy="378.48" r="1.8"/>
<circle cx="242.84" cy="380.64" r="1.8"/>
<circle cx="242.25" cy="380.23" r="1.8"/>
<circle cx="243.5" cy="377.3" r="1.8"/>
<circle cx="245.6" cy="376.55" r="1.8"/>
<circle cx="245.33" cy="377.02" r="1.8"/>
<circle cx="240.01" cy="377.21" r="1.8"/>
<circle cx="244.95" cy="381.87" r="1.8"/>
<circle cx="257.56" cy="375.6" r="1.8"/>
<circle cx="258" cy="386.8" r="1.8"/>
<circle cx="257.07" cy="379.74" r="1.8"/>
<circle cx="258.34" cy="383.49" r="1.8"/>
<circle cx="258.94" cy="381.49" r="1.8"/>
<circle cx="255.47" cy="382.03" r="1.8"/>
<circle cx="255.68" cy="391.59" r="1.8"/>
<circle cx="257.82" cy="378.03" r="1.8"/>
<circle cx="258.43" cy="377.36" r="1.8"/>
<circle cx="257.71" cy="391.53" r="1.8"/>
<circle cx="254.93" cy="389.94" r="1.8"/>
<circle cx="255.94" cy="384.73" r="1.8"/>
<circle cx="252.44" cy="395.98" r="1.8"/>
<circle cx="251.99" cy="395.93" r="1.8"/>
<circle cx="256.01" cy="380.24" r="1.8"/>
<circle cx="255.51" cy="396.23" r="1.8"/>
<circle cx="258.59" cy="384.22" r="1.8"/>
<circle cx="256.79" cy="380.87" r="1.8"/>
<circle cx="257.7" cy="387.73" r="1.8"/>
<circle cx="256.61" cy="392.82" r="1.8"/>
<circle cx="255.76" cy="383.52" r="1.8"/>
<circle cx="258.56" cy="379.07" r="1.8"/>
<circle cx="257.44" cy="390.73" r="1.8"/>
<circle cx="256.88" cy="379.4" r="1.8"/>
<circle cx="256.09" cy="393.29" r="1.8"/>
<circle cx="257.11" cy="378.4" r="1.8"/>
<circle cx="253.56" cy="395.86" r="1.8"/>
<circle cx="256.23" cy="379.91" r="1.8"/>
<circle cx="258.1" cy="391.67" r="1.8"/>
<circle cx="255.79" cy="379.06" r="1.8"/>
<circle cx="256.13" cy="381.19" r="1.8"/>
<circle cx="254.12" cy="387.51" r="1.8"/>
<circle cx="255.15" cy="383.05" r="1.8"/>
<circle cx="257.19" cy="397.93" r="1.8"/>
<circle cx="259.06" cy="377.84" r="1.8"/>
<circle cx="256.89" cy="377.84" r="1.8"/>
<circle cx="257.68" cy="398.13" r="1.8"/>
<circle cx="255.13" cy="392.37" r="1.8"/>
<circle cx="257.65" cy="380.01" r="1.8"/>
<circle cx="256.2" cy="377.96" r="1.8"/>
<circle cx="254.06" cy="384.43" r="1.8"/>
<circle cx="258.08" cy="384.68" r="1.8"/>
<circle cx="255.71" cy="391.45" r="1.8"/>
<circle cx="255.63" cy="390.04" r="1.8"/>
<circle cx="257.63" cy="378.76" r="1.8"/>
<circle cx="257.8" cy="384.81" r="1.8"/>
<circle cx="254.98" cy="396.38" r="1.8"/>
<circle cx="257.61" cy="388.7" r="1.8"/>
<circle cx="254.96" cy="385.19" r="1.8"/>
<circle cx="258.34" cy="392.11" r="1.8"/>
<circle cx="256.98" cy="393.3" r="1.8"/>
<circle cx="256.83" cy="395.11" r="1.8"/>
<circle cx="255.54" cy="390.26" r="1.8"/>
<circle cx="257.38" cy="382.7" r="1.8"/>
<circle cx="257.03" cy="377.75" r="1.8"/>
<circle cx="257.08" cy="393.49" r="1.8"/>
<circle cx="254.22" cy="389.98" r="1.8"/>
<circle cx="256.2" cy="385.24" r="1.8"/>
<circle cx="255.31" cy="389.8" r="1.8"/>
<circle cx="258.72" cy="391.03" r="1.8"/>
<circle cx="257.75" cy="379.71" r="1.8"/>
<circle cx="254.68" cy="393.4" r="1.8"/>
<circle cx="259.05" cy="386.77" r="1.8"/>
<circle cx="257.64" cy="376.38" r="1.8"/>
<circle cx="258.31" cy="379.2" r="1.8"/>
<circle cx="255.64" cy="397.13" r="1.8"/>
<circle cx="257.6" cy="377.83" r="1.8"/>
<circle cx="257.46" cy="387.94" r="1.8"/>
<circle cx="257.04" cy="387.28" r="1.8"/>
<circle cx="255.66" cy="394.57" r="1.8"/>
<circle cx="258.92" cy="384.94" r="1.8"/>
<circle cx="257.83" cy="380.33" r="1.8"/>
<circle cx="257.93" cy="384.53" r="1.8"/>
<circle cx="259.14" cy="378.32" r="1.8"/>
<circle cx="254.35" cy="383.68" r="1.8"/>
<circle cx="256.38" cy="381.81" r="1.8"/>
<circle cx="257.3" cy="375.81" r="1.8"/>
<circle cx="257.54" cy="385.17" r="1.8"/>
<circle cx="255.44" cy="383.6" r="1.8"/>
<circle cx="258.06" cy="380.66" r="1.8"/>
<circle cx="255.7" cy="397.12" r="1.8"/>
<circle cx="258.33" cy="380.54" r="1.8"/>
<circle cx="254.99" cy="384.52" r="1.8"/>
<circle cx="258.33" cy="378.47" r="1.8"/>
<circle cx="256.49" cy="394.12" r="1.8"/>
<circle cx="256.68" cy="386.29" r="1.8"/>
<circle cx="259.04" cy="380.7" r="1.8"/>
<circle cx="257.35" cy="383.62" r="1.8"/>
<circle cx="257.84" cy="394.33" r="1.8"/>
<circle cx="255.14" cy="386.27" r="1.8"/>
<circle cx="253.78" cy="388.11" r="1.8"/>
<circle cx="254.43" cy="394.68" r="1.8"/>
<circle cx="253.78" cy="395.07" r="1.8"/>
<circle cx="255.28" cy="384.15" r="1.8"/>
<circle cx="254.7" cy="385.3" r="1.8"/>
<circle cx="258.31" cy="375.56" r="1.8"/>
<circle cx="255.62" cy="381.97" r="1.8"/>
<circle cx="256.68" cy="382.44" r="1.8"/>
<circle cx="257.19" cy="385.36" r="1.8"/>
<circle cx="254.86" cy="390.66" r="1.8"/>
<circle cx="258.12" cy="396.86" r="1.8"/>
<circle cx="258.6" cy="376.81" r="1.8"/>
<circle cx="257.6" cy="396.33" r="1.8"/>
<circle cx="258.53" cy="378.73" r="1.8"/>
<circle cx="252.64" cy="390.06" r="1.8"/>
<circle cx="259.04" cy="375.76" r="1.8"/>
<circle cx="254.11" cy="390.59" r="1.8"/>
<circle cx="255.98" cy="377.83" r="1.8"/>
<circle cx="258.2" cy="380.87" r="1.8"/>
<circle cx="254.89" cy="383.47" r="1.8"/>
<circle cx="261.71" cy="395.29" r="1.8"/>
<circle cx="259.5" cy="396.58" r="1.8"/>
<circle cx="260.83" cy="395.16" r="1.8"/>
<circle cx="261.01" cy="396.62" r="1.8"/>
<circle cx="261.36" cy="395.9" r="1.8"/>
<circle cx="259.59" cy="394.01" r="1.8"/>
<circle cx="260.59" cy="394.64" r="1.8"/>
<circle cx="260.32" cy="396.47" r="1.8"/>
<circle cx="260.67" cy="388.44" r="1.8"/>
<circle cx="259.7" cy="386.81" r="1.8"/>
<circle cx="260.48" cy="385.76" r="1.8"/>
<circle cx="260.4" cy="386.88" r="1.8"/>
<circle cx="260.47" cy="391.48" r="1.8"/>
<circle cx="260.62" cy="396.22" r="1.8"/>
<circle cx="259.02" cy="395.93" r="1.8"/>
<circle cx="260.4" cy="392.31" r="1.8"/>
<circle cx="261" cy="395.93" r="1.8"/>
<circle cx="260.12" cy="390.44" r="1.8"/>
<circle cx="261.88" cy="385.98" r="1.8"/>
<circle cx="260.91" cy="393.27" r="1.8"/>
</g>
<polygon points="167.6,397.44 174.11,396.81 180.62,396.04 187.14,395.13 193.65,394.06 200.16,392.85 206.67,391.5 213.18,390 219.69,388.36 226.21,386.57 232.72,384.65 239.23,382.58 245.74,380.38 252.25,378.03 258.77,375.55 265.28,372.93 271.79,370.17 278.3,367.28 284.81,364.25 291.33,361.08 297.84,357.78 304.35,354.35 310.86,350.79 317.37,347.1 323.88,343.27 330.4,339.32 336.91,335.24 343.42,331.02 349.93,326.69 356.44,322.22 362.96,317.63 369.47,312.91 375.98,308.07 382.49,303.11 389,298.02 395.52,292.81 402.03,287.48 408.54,282.03 415.05,276.46 421.56,270.77 428.07,264.97 434.59,259.04 441.1,253 447.61,246.85 454.12,240.58 460.63,234.19 467.15,227.69 473.66,221.08 480.17,214.36 486.68,207.53 493.19,200.58 499.71,193.53 506.22,186.37 512.73,179.1 519.24,171.72 525.75,164.24 532.26,156.65 538.78,148.96 545.29,141.16 551.8,133.26 551.8,331.06 545.29,334.19 538.78,337.26 532.26,340.25 525.75,343.17 519.24,346.02 512.73,348.8 506.22,351.51 499.71,354.15 493.19,356.72 486.68,359.21 480.17,361.64 473.66,364 467.15,366.29 460.63,368.51 454.12,370.66 447.61,372.74 441.1,374.75 434.59,376.7 428.07,378.57 421.56,380.38 415.05,382.11 408.54,383.78 402.03,385.38 395.52,386.91 389,388.37 382.49,389.76 375.98,391.09 369.47,392.35 362.96,393.54 356.44,394.66 349.93,395.72 343.42,396.71 336.91,397.63 330.4,398.48 323.88,399.27 317.37,399.98 310.86,400.64 304.35,401.22 297.84,401.74 291.33,402.19 284.81,402.58 278.3,402.9 271.79,403.15 265.28,403.34 258.77,403.46 252.25,403.52 245.74,403.51 239.23,403.44 232.72,403.3 226.21,403.09 219.69,402.82 213.18,402.48 206.67,402.08 200.16,401.62 193.65,401.09 187.14,400.49 180.62,399.83 174.11,399.11 167.6,398.32" fill="#87ceeb" fill-opacity="0.3"/>
<polygon points="167.6,397.63 174.11,397.36 180.62,396.99 187.14,396.51 193.65,395.92 200.16,395.23 206.67,394.43 213.18,393.52 219.69,392.51 226.21,391.38 232.72,390.16 239.23,388.82 245.74,387.38 252.25,385.83 258.77,384.17 265.28,382.4 271.79,380.53 278.3,378.55 284.81,376.46 291.33,374.27 297.84,371.96 304.35,369.55 310.86,367.03 317.37,364.4 323.88,361.67 330.4,358.82 336.91,355.87 343.42,352.81 349.93,349.64 356.44,346.36 362.96,342.98 369.47,339.48 375.98,335.88 382.49,332.17 389,328.34 395.52,324.41 402.03,320.37 408.54,316.23 415.05,311.97 421.56,307.6 428.07,303.13 434.59,298.54 441.1,293.85 447.61,289.04 454.12,284.13 460.63,279.11 467.15,273.97 473.66,268.73 480.17,263.38 486.68,257.91 493.19,252.34 499.71,246.66 506.22,240.86 512.73,234.96 519.24,228.95 525.75,222.82 532.26,216.59 538.78,210.24 545.29,203.79 551.8,197.22 551.8,271.28 545.29,275.48 538.78,279.62 532.26,283.7 525.75,287.72 519.24,291.68 512.73,295.58 506.22,299.41 499.71,303.18 493.19,306.88 486.68,310.52 480.17,314.09 473.66,317.6 467.15,321.04 460.63,324.42 454.12,327.72 447.61,330.96 441.1,334.14 434.59,337.24 428.07,340.27 421.56,343.24 415.05,346.13 408.54,348.95 402.03,351.7 395.52,354.38 389,356.99 382.49,359.52 375.98,361.99 369.47,364.37 362.96,366.68 356.44,368.92 349.93,371.08 343.42,373.17 336.91,375.18 330.4,377.11 323.88,378.97 317.37,380.75 310.86,382.45 304.35,384.07 297.84,385.61 291.33,387.07 284.81,388.45 278.3,389.75 271.79,390.97 265.28,392.1 258.77,393.15 252.25,394.13 245.74,395.01 239.23,395.81 232.72,396.53 226.21,397.17 219.69,397.71 213.18,398.17 206.67,398.55 200.16,398.84 193.65,399.04 187.14,399.15 180.62,399.17 174.11,399.11 167.6,398.95" fill="#90ee90" fill-opacity="0.3"/>
<polyline fill="none" stroke="#000" stroke-width="2.1" stroke-linejoin="round" points="167.6,398.26 174.11,398.28 180.62,398.19 187.14,398 193.65,397.7 200.16,397.29 206.67,396.79 213.18,396.18 219.69,395.47 226.21,394.65 232.72,393.74 239.23,392.72 245.74,391.6 252.25,390.38 258.77,389.06 265.28,387.65 271.79,386.13 278.3,384.51 284.81,382.8 291.33,380.99 297.84,379.08 304.35,377.07 310.86,374.97 317.37,372.77 323.88,370.47 330.4,368.08 336.91,365.6 343.42,363.02 349.93,360.34 356.44,357.58 362.96,354.72 369.47,351.77 375.98,348.72 382.49,345.58 389,342.36 395.52,339.04 402.03,335.63 408.54,332.13 415.05,328.54 421.56,324.86 428.07,321.09 434.59,317.24 441.1,313.29 447.61,309.26 454.12,305.15 460.63,300.94 467.15,296.65 473.66,292.27 480.17,287.81 486.68,283.27 493.19,278.64 499.71,273.92 506.22,269.12 512.73,264.24 519.24,259.28 525.75,254.23 532.26,249.1 538.78,243.89 545.29,238.6 551.8,233.23"/>
<line x1="149.3" x2="570.9" y1="390.75" y2="390.75" stroke="#000" stroke-width="1.1" stroke-dasharray="1.1 2.86"/>
<line x1="279" x2="279" y1="422.3" y2="6.9" stroke="#006400" stroke-width="2.15" stroke-dasharray="7.9 7.9"/>
<line x1="378.5" x2="378.5" y1="422.3" y2="6.9" stroke="#00008b" stroke-width="2.15" stroke-dasharray="7.9 7.9"/>
<g font-family='"Liberation Sans", Arial, Helvetica, sans-serif'>
<g font-size="8.6" fill="#4d4d4d" text-anchor="end">
<text x="145.3" y="404.15">0</text>
<text x="145.3" y="295.13">500</text>
<text x="145.3" y="186.12">1000</text>
<text x="145.3" y="77.1">1500</text>
</g>
<g font-size="8.6" fill="#4d4d4d" text-anchor="middle">
<text x="259.85" y="432.9">1000</text>
<text x="371.15" y="432.9">2000</text>
<text x="482.45" y="432.9">3000</text>
</g>
<g font-size="10.4" fill="#000">
<text x="246" y="66.7" text-anchor="middle">1173</text>
<text x="345.1" y="66.7" text-anchor="middle">2067</text>
</g>
<text x="132.9" y="6.8" font-size="10" fill="#000">A</text>
<text x="403.3" y="444.2" font-size="10.2" fill="#000" stroke="#000" stroke-width="0.1" text-anchor="middle" xml:space="preserve">Inventory  (Number of cows)</text>
<text transform="translate(122.4,214.4) rotate(-90)" font-size="10.2" fill="#000" stroke="#000" stroke-width="0.1" text-anchor="middle">NH3 Emissions (kg/day)</text>
</g>
</g>
<g id="panelB">
<line x1="40.9" x2="330.65" y1="724.09" y2="724.09" stroke="#ebebeb" stroke-width="0.5"/>
<line x1="40.9" x2="330.65" y1="648.83" y2="648.83" stroke="#ebebeb" stroke-width="0.5"/>
<line x1="40.9" x2="330.65" y1="573.57" y2="573.57" stroke="#ebebeb" stroke-width="0.5"/>
<line x1="40.9" x2="330.65" y1="498.31" y2="498.31" stroke="#ebebeb" stroke-width="0.5"/>
<line y1="486.2" y2="774.85" x1="80.3" x2="80.3" stroke="#ebebeb" stroke-width="0.5"/>
<line y1="486.2" y2="774.85" x1="132.96" x2="132.96" stroke="#ebebeb" stroke-width="0.5"/>
<line y1="486.2" y2="774.85" x1="185.62" x2="185.62" stroke="#ebebeb" stroke-width="0.5"/>
<line y1="486.2" y2="774.85" x1="238.27" x2="238.27" stroke="#ebebeb" stroke-width="0.5"/>
<line y1="486.2" y2="774.85" x1="290.93" x2="290.93" stroke="#ebebeb" stroke-width="0.5"/>
<line x1="40.9" x2="330.65" y1="761.72" y2="761.72" stroke="#ebebeb" stroke-width="1"/>
<line x1="40.9" x2="330.65" y1="686.46" y2="686.46" stroke="#ebebeb" stroke-width="1"/>
<line x1="40.9" x2="330.65" y1="611.2" y2="611.2" stroke="#ebebeb" stroke-width="1"/>
<line x1="40.9" x2="330.65" y1="535.94" y2="535.94" stroke="#ebebeb" stroke-width="1"/>
<line y1="486.2" y2="774.85" x1="53.97" x2="53.97" stroke="#ebebeb" stroke-width="1"/>
<line y1="486.2" y2="774.85" x1="106.63" x2="106.63" stroke="#ebebeb" stroke-width="1"/>
<line y1="486.2" y2="774.85" x1="159.29" x2="159.29" stroke="#ebebeb" stroke-width="1"/>
<line y1="486.2" y2="774.85" x1="211.94" x2="211.94" stroke="#ebebeb" stroke-width="1"/>
<line y1="486.2" y2="774.85" x1="264.6" x2="264.6" stroke="#ebebeb" stroke-width="1"/>
<line y1="486.2" y2="774.85" x1="317.26" x2="317.26" stroke="#ebebeb" stroke-width="1"/>
<g fill="#87ceeb" stroke="#000" stroke-width="1" stroke-linejoin="miter">
<rect x="53.97" y="746.1" width="0.53" height="15.62"/>
<rect x="54.5" y="750.2" width="1.05" height="11.52"/>
<rect x="55.55" y="750.2" width="1.05" height="11.52"/>
<rect x="56.6" y="730.6" width="2.63" height="31.12"/>
<rect x="59.24" y="719.5" width="5.27" height="42.22"/>
<rect x="64.5" y="682" width="15.8" height="79.72"/>
<rect x="80.3" y="698.47" width="26.33" height="63.25"/>
<rect x="106.63" y="643.3" width="78.99" height="118.42"/>
<rect x="185.62" y="499.45" width="131.64" height="262.27"/>
</g>
<line x1="115.74" x2="115.74" y1="774.85" y2="486.2" stroke="#006400" stroke-width="2.2" stroke-dasharray="8.085 8.085"/>
<line x1="162.81" x2="162.81" y1="774.85" y2="486.2" stroke="#00008b" stroke-width="2.2" stroke-dasharray="8.085 8.085"/>
<g font-family='"Liberation Sans", Arial, Helvetica, sans-serif'>
<g font-size="8.6" fill="#4d4d4d" text-anchor="end">
<text x="37.7" y="764.77">0</text>
<text x="37.7" y="689.51">2000</text>
<text x="37.7" y="614.25">4000</text>
<text x="37.7" y="538.99">6000</text>
</g>
<g font-size="8.6" fill="#4d4d4d" text-anchor="middle">
<text x="53.97" y="785.8">0</text>
<text x="106.63" y="785.8">1000</text>
<text x="159.29" y="785.8">2000</text>
<text x="211.94" y="785.8">3000</text>
<text x="264.6" y="785.8">4000</text>
<text x="317.26" y="785.8">5000+</text>
</g>
<g font-size="10.4" fill="#000" stroke="#000" stroke-width="0.22" text-anchor="middle">
<text x="95" y="529">1173</text>
<text x="141.7" y="529">2067</text>
</g>
<text x="14.4" y="486.6" font-size="10" fill="#000">B</text>
<text x="185.9" y="797.2" font-size="10.42" fill="#000" stroke="#000" stroke-width="0.12" text-anchor="middle">Facility Size Class (Number of cows)</text>
<text transform="translate(7.6,647) rotate(-90)" font-size="10.4" fill="#000" stroke="#000" stroke-width="0.12" text-anchor="middle">Thousand Heads</text>
</g>
</g>
<g id="panelC">
<line x1="384.05" x2="685" y1="708.11" y2="708.11" stroke="#ebebeb" stroke-width="0.5"/>
<line x1="384.05" x2="685" y1="603.84" y2="603.84" stroke="#ebebeb" stroke-width="0.5"/>
<line x1="384.05" x2="685" y1="499.56" y2="499.56" stroke="#ebebeb" stroke-width="0.5"/>
<line y1="474.4" y2="773.75" x1="425.19" x2="425.19" stroke="#ebebeb" stroke-width="0.5"/>
<line y1="474.4" y2="773.75" x1="479.99" x2="479.99" stroke="#ebebeb" stroke-width="0.5"/>
<line y1="474.4" y2="773.75" x1="534.77" x2="534.77" stroke="#ebebeb" stroke-width="0.5"/>
<line y1="474.4" y2="773.75" x1="589.57" x2="589.57" stroke="#ebebeb" stroke-width="0.5"/>
<line y1="474.4" y2="773.75" x1="644.36" x2="644.36" stroke="#ebebeb" stroke-width="0.5"/>
<line x1="384.05" x2="685" y1="760.25" y2="760.25" stroke="#ebebeb" stroke-width="1"/>
<line x1="384.05" x2="685" y1="655.98" y2="655.98" stroke="#ebebeb" stroke-width="1"/>
<line x1="384.05" x2="685" y1="551.7" y2="551.7" stroke="#ebebeb" stroke-width="1"/>
<line y1="474.4" y2="773.75" x1="397.8" x2="397.8" stroke="#ebebeb" stroke-width="1"/>
<line y1="474.4" y2="773.75" x1="452.59" x2="452.59" stroke="#ebebeb" stroke-width="1"/>
<line y1="474.4" y2="773.75" x1="507.38" x2="507.38" stroke="#ebebeb" stroke-width="1"/>
<line y1="474.4" y2="773.75" x1="562.17" x2="562.17" stroke="#ebebeb" stroke-width="1"/>
<line y1="474.4" y2="773.75" x1="616.96" x2="616.96" stroke="#ebebeb" stroke-width="1"/>
<line y1="474.4" y2="773.75" x1="671.75" x2="671.75" stroke="#ebebeb" stroke-width="1"/>
<g fill="#87ceeb" stroke="#000" stroke-width="1" stroke-linejoin="miter">
<rect x="397.8" y="487.2" width="0.55" height="273.05"/>
<rect x="398.35" y="675.4" width="0.55" height="84.85"/>
<rect x="398.9" y="675.4" width="1.64" height="84.85"/>
<rect x="400.54" y="634" width="2.74" height="126.25"/>
<rect x="403.28" y="673.6" width="5.48" height="86.65"/>
<rect x="408.76" y="683.5" width="16.44" height="76.75"/>
<rect x="425.19" y="730.4" width="27.4" height="29.85"/>
<rect x="452.59" y="735.55" width="82.18" height="24.7"/>
<rect x="534.77" y="742.8" width="136.98" height="17.45"/>
</g>
<line x1="462.07" x2="462.07" y1="773.75" y2="474.4" stroke="#006400" stroke-width="2.3" stroke-dasharray="8.4 8.4"/>
<line x1="511.05" x2="511.05" y1="773.75" y2="474.4" stroke="#00008b" stroke-width="2.3" stroke-dasharray="8.4 8.4"/>
<g font-family='"Liberation Sans", Arial, Helvetica, sans-serif'>
<g font-size="8.75" fill="#4d4d4d" text-anchor="end">
<text x="379" y="763.4">0</text>
<text x="379" y="659.12">5000</text>
<text x="379" y="554.85">10000</text>
</g>
<g font-size="8.75" fill="#4d4d4d" text-anchor="middle">
<text x="397.8" y="785.4">0</text>
<text x="452.59" y="785.4">1000</text>
<text x="507.38" y="785.4">2000</text>
<text x="562.17" y="785.4">3000</text>
<text x="616.96" y="785.4">4000</text>
<text x="671.75" y="785.4">5000</text>
</g>
<g font-size="10.9" fill="#000" stroke="#000" stroke-width="0.25" text-anchor="middle">
<text x="440.2" y="544.3">1173</text>
<text x="488.8" y="544.3">2067</text>
</g>
<text x="361" y="474.7" font-size="10.2" fill="#000">C</text>
<text x="578.8" y="796.8" font-size="10.7" fill="#000" stroke="#000" stroke-width="0.12" text-anchor="middle">Facility Size Class (Number of cows)</text>
<text transform="translate(349.7,624) rotate(-90)" font-size="10.7" fill="#000" stroke="#000" stroke-width="0.12" text-anchor="middle">Facility Count</text>
</g>
</g>
</svg>
</body></html>
